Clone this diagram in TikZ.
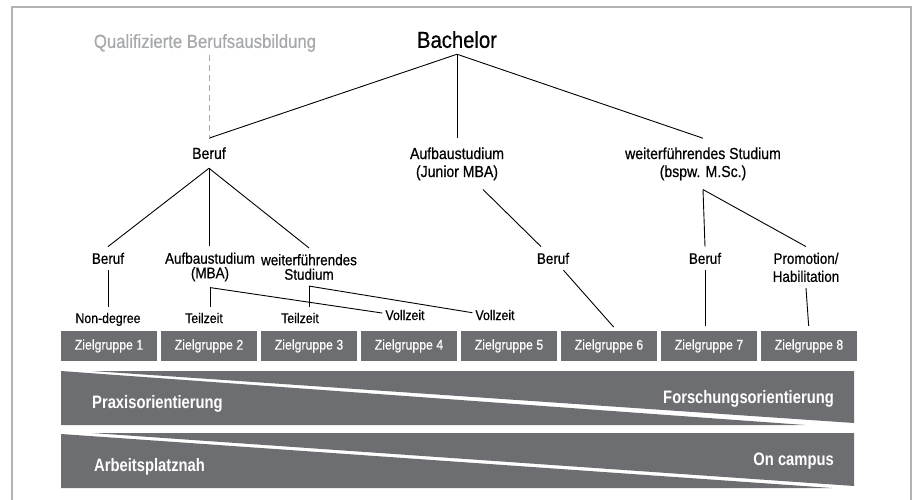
\documentclass[tikz,border=0pt]{standalone}
\usepackage{fontspec}
\setmainfont[FakeStretch=0.88, FakeBold=0.6]{Liberation Sans}
\newfontfamily\narrowbold[FakeStretch=0.82]{Liberation Sans Bold}
\usetikzlibrary{positioning}
\definecolor{bandgray}{HTML}{6D6E71}
\definecolor{framegray}{HTML}{B3B3B3}
\definecolor{softgray}{HTML}{A7A9AC}

\begin{document}
\begin{tikzpicture}[x=1pt, y=-1pt,
  link/.style={line width=0.9pt, black},
  lvltop/.style={font=\fontsize{16}{18}\selectfont, align=center, inner xsep=2pt, inner ysep=9pt},
  lvlsub/.style={font=\fontsize{15.3}{14.5}\selectfont, align=center, inner xsep=2pt, inner ysep=6pt},
  leaf/.style={font=\fontsize{14}{16}\selectfont, text height=10.2pt, text depth=2.9pt, inner xsep=3pt, inner ysep=6pt},
  zgbox/.style={fill=bandgray, text=white, minimum width=96pt, minimum height=30pt, inner sep=0pt, font=\fontsize{14}{16}\selectfont},
  bandtxt/.style={text=white, font=\narrowbold\fontsize{18}{20}\selectfont, inner sep=0pt}
]
  \useasboundingbox (0,0) rectangle (915,500);

  % Rahmen
  \draw[framegray, line width=1.5pt] (12,500) -- (12,7) -- (911,7) -- (911,500);

  % Kopf
  \node[font=\fontsize{23}{26}\selectfont, inner ysep=6pt] (bach) at (457,39.6) {Bachelor};
  \node[font=\fontsize{19}{22}\selectfont, text=softgray, inner ysep=3pt] (qual) at (205,43) {Qualifizierte Berufsausbildung};

  % zweite Ebene
  \node[lvltop] (beruf2) at (209,153.2) {Beruf};
  \node[lvltop] (aufb2) at (457,163.9) {Aufbaustudium\\(Junior MBA)};
  \node[lvltop] (wst2) at (703,163.9) {weiterführendes Studium\\(bspw. M.Sc.)};

  \draw[link] (bach.south) -- (beruf2.north);
  \draw[link] (bach.south) -- (aufb2.north);
  \draw[link] (bach.south) -- (wst2.north);
  \draw[softgray, line width=0.9pt, dash pattern=on 6pt off 4pt] (qual.south -| beruf2.north) -- (beruf2.north);

  % dritte Ebene
  \node[lvlsub] (beruf3) at (108,258.4) {Beruf};
  \node[lvlsub] (mba3) at (210,267) {Aufbaustudium\\(MBA)};
  \node[lvlsub] (wst3) at (309,267) {weiterführendes\\Studium};
  \node[lvlsub] (beruf6) at (553,258.4) {Beruf};
  \node[lvlsub] (beruf7) at (705,258.4) {Beruf};
  \node[lvlsub] (promo) at (806,267.4) {Promotion/\\[3.5pt]Habilitation};

  \draw[link] (beruf2.south) -- (beruf3.north);
  \draw[link] (beruf2.south) -- (mba3.north -| beruf2.south);
  \draw[link] (beruf2.south) -- (wst3.north);
  \draw[link] (aufb2) -- (beruf6);
  \draw[link] (wst2.south) -- (beruf7.north);
  \draw[link] (wst2.south) -- (promo.north);

  % vierte Ebene
  \node[leaf] (nondeg) at (108,319.4) {Non-degree};
  \node[leaf] (teil1) at (204,319.4) {Teilzeit};
  \node[leaf] (teil2) at (300,319.4) {Teilzeit};
  \node[leaf] (voll1) at (405,316.4) {Vollzeit};
  \node[leaf] (voll2) at (495,316.4) {Vollzeit};

  \draw[link] (beruf3.south) -- (nondeg.north);
  \draw[link] (mba3.south) -- (mba3.south |- teil1.north);
  \draw[link] (mba3.south) -- (voll1);
  \draw[link] (wst3.south) -- (wst3.south |- teil2.north);
  \draw[link] (wst3.south) -- (voll2);

  % Zielgruppen
  \foreach \i in {1,...,8} {
    \node[zgbox] (zg\i) at (9+100*\i,346) {Zielgruppe \i};
  }
  \draw[link, shorten >=5pt] (beruf6) -- ([xshift=8pt]zg6.north);
  \draw[link, shorten >=5pt] (beruf7.south) -- (zg7.north -| beruf7.south);
  \draw[link, shorten >=5pt] (promo.south) -- (zg8.north);

  % Orientierungsbalken
  \fill[bandgray] (92,371) -- (854,371) -- (854,423) -- cycle;
  \fill[bandgray] (61,371) -- (805,425) -- (61,425) -- cycle;
  \fill[bandgray] (92,433) -- (854,433) -- (854,486) -- cycle;
  \fill[bandgray] (61,434) -- (832,488) -- (61,488) -- cycle;

  \node[bandtxt, anchor=base west] (praxis) at (92,408) {Praxisorientierung};
  \node[bandtxt, anchor=base east] (forsch) at (834,403) {Forschungsorientierung};
  \node[bandtxt, anchor=base west] (arbeit) at (94,471) {Arbeitsplatznah};
  \node[bandtxt, anchor=base east] (campus) at (834,465) {On campus};
\end{tikzpicture}
\end{document}
